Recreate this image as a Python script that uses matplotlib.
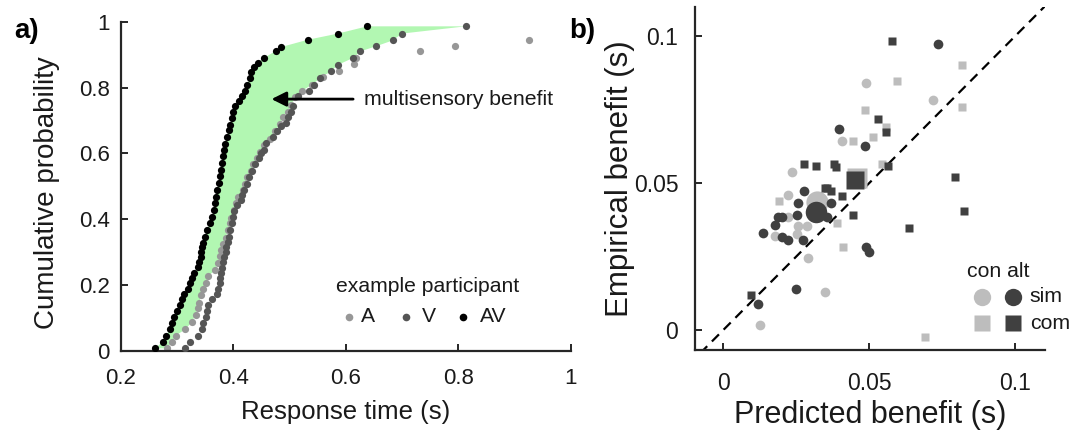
import numpy as np
import matplotlib
matplotlib.use("Agg")
import matplotlib.pyplot as plt

plt.rcParams['font.family'] = ['Liberation Sans', 'DejaVu Sans']

# ---- panel a: cumulative RT distributions (example participant) ----
av_rt = [0.261, 0.275, 0.281, 0.287, 0.291, 0.295, 0.300, 0.305, 0.309, 0.313,
         0.319, 0.323, 0.327, 0.331, 0.337, 0.340, 0.343, 0.343, 0.345, 0.346,
         0.349, 0.354, 0.358, 0.363, 0.365, 0.367, 0.369, 0.371, 0.374, 0.376,
         0.379, 0.380, 0.382, 0.384, 0.386, 0.389, 0.392, 0.395, 0.397, 0.399,
         0.403, 0.410, 0.416, 0.421, 0.425, 0.429, 0.432, 0.437, 0.444, 0.455,
         0.476, 0.485, 0.532, 0.586, 0.638]
av_p = [0.008, 0.028, 0.046, 0.066, 0.086, 0.102, 0.122, 0.140, 0.157, 0.172,
        0.188, 0.206, 0.221, 0.237, 0.254, 0.270, 0.285, 0.300, 0.315, 0.329,
        0.347, 0.368, 0.388, 0.408, 0.429, 0.449, 0.469, 0.489, 0.510, 0.530,
        0.550, 0.570, 0.591, 0.611, 0.629, 0.650, 0.670, 0.687, 0.707, 0.727,
        0.745, 0.760, 0.775, 0.791, 0.809, 0.829, 0.846, 0.864, 0.876, 0.890,
        0.912, 0.923, 0.945, 0.964, 0.986]

v_rt = [0.314, 0.324, 0.337, 0.345, 0.347, 0.351, 0.353, 0.356, 0.362, 0.371,
        0.373, 0.376, 0.377, 0.379, 0.380, 0.382, 0.384, 0.388, 0.388, 0.390,
        0.392, 0.395, 0.398, 0.400, 0.402, 0.406, 0.413, 0.415, 0.420, 0.424,
        0.428, 0.434, 0.439, 0.445, 0.449, 0.455, 0.458, 0.470, 0.477, 0.485,
        0.493, 0.498, 0.502, 0.507, 0.515, 0.535, 0.543, 0.555, 0.573, 0.586,
        0.613, 0.626, 0.653, 0.683, 0.700, 0.813]
v_p = [0.008, 0.028, 0.047, 0.066, 0.086, 0.104, 0.122, 0.140, 0.157, 0.172,
       0.188, 0.205, 0.221, 0.237, 0.253, 0.270, 0.286, 0.302, 0.317, 0.332,
       0.347, 0.368, 0.388, 0.406, 0.426, 0.444, 0.459, 0.474, 0.489, 0.507,
       0.527, 0.548, 0.567, 0.586, 0.601, 0.611, 0.631, 0.650, 0.667, 0.682,
       0.692, 0.710, 0.727, 0.745, 0.773, 0.791, 0.809, 0.829, 0.849, 0.869,
       0.890, 0.910, 0.925, 0.943, 0.964, 0.986]

a_rt = [0.282, 0.291, 0.298, 0.315, 0.327, 0.333, 0.337, 0.340, 0.343, 0.346,
        0.352, 0.356, 0.368, 0.373, 0.376, 0.378, 0.381, 0.387, 0.390, 0.394,
        0.396, 0.402, 0.405, 0.408, 0.417, 0.421, 0.425, 0.431, 0.436, 0.442,
        0.447, 0.455, 0.465, 0.474, 0.483, 0.488, 0.497, 0.503, 0.510, 0.523,
        0.540, 0.559, 0.588, 0.614, 0.618, 0.732, 0.794, 0.926]
a_p = [0.008, 0.028, 0.047, 0.066, 0.089, 0.110, 0.130, 0.147, 0.170, 0.188,
       0.208, 0.228, 0.246, 0.267, 0.289, 0.307, 0.325, 0.342, 0.368, 0.388,
       0.403, 0.429, 0.449, 0.469, 0.489, 0.507, 0.527, 0.548, 0.567, 0.586,
       0.605, 0.625, 0.645, 0.667, 0.689, 0.710, 0.727, 0.748, 0.770, 0.791,
       0.809, 0.831, 0.851, 0.872, 0.890, 0.910, 0.925, 0.943]

# ---- panel b: predicted vs empirical benefit ----
sim_con_x = [0.0489, 0.0720, 0.0406, 0.0235, 0.0223, 0.0291, 0.0349, 0.0126,
             0.0177, 0.0252, 0.0286, 0.0257, 0.0223]
sim_con_y = [0.0841, 0.0782, 0.0642, 0.0538, 0.0460, 0.0244, 0.0128, 0.0017,
             0.0320, 0.0326, 0.0355, 0.0355, 0.0386]
sim_alt_x = [0.0737, 0.0397, 0.0486, 0.0278, 0.0257, 0.0371, 0.0254, 0.0200,
             0.0189, 0.0177, 0.0137, 0.0200, 0.0221, 0.0274, 0.0354, 0.0489,
             0.0501, 0.0249, 0.0118]
sim_alt_y = [0.0974, 0.0684, 0.0627, 0.0475, 0.0434, 0.0432, 0.0392, 0.0386,
             0.0384, 0.0358, 0.0330, 0.0316, 0.0305, 0.0307, 0.0386, 0.0284,
             0.0264, 0.0139, 0.0089]
com_con_x = [0.0817, 0.0597, 0.0486, 0.0817, 0.0558, 0.0446, 0.0512, 0.0545,
             0.0192, 0.0391, 0.0411, 0.0691]
com_con_y = [0.0903, 0.0849, 0.0750, 0.0759, 0.0693, 0.0645, 0.0657, 0.0566,
             0.0438, 0.0366, 0.0282, -0.0023]
com_alt_x = [0.0577, 0.0531, 0.0558, 0.0278, 0.0317, 0.0381, 0.0386, 0.0566,
             0.0794, 0.0349, 0.0357, 0.0371, 0.0408, 0.0446, 0.0826, 0.0637,
             0.0095]
com_alt_y = [0.0983, 0.0719, 0.0674, 0.0566, 0.0560, 0.0566, 0.0555, 0.0560,
             0.0520, 0.0483, 0.0485, 0.0472, 0.0457, 0.0392, 0.0407, 0.0347,
             0.0119]
# group means
mean_sim_con = (0.0322, 0.0437)
mean_sim_alt = (0.0318, 0.0402)
mean_com_con = (0.0460, 0.0517)
mean_com_alt = (0.0452, 0.0511)

c_A, c_V, c_AV = '#979797', '#555555', 'black'
c_light, c_dark = '#bdbdbd', '#404040'
green = '#b2f7b2'
spine_c = '#262626'
txt_c = '#1a1a1a'

fig = plt.figure(figsize=(10.83, 4.37), dpi=100)
axa = fig.add_axes([0.1114, 0.1968, 0.4158, 0.7535])
axb = fig.add_axes([0.6417, 0.1991, 0.3232, 0.7849])

for ax in (axa, axb):
    for s in ('top', 'right'):
        ax.spines[s].set_visible(False)
    for s in ('left', 'bottom'):
        ax.spines[s].set_linewidth(1.6)
        ax.spines[s].set_color(spine_c)
    ax.tick_params(direction='in', length=5, width=1.4, color=spine_c,
                   labelsize=16, labelcolor=txt_c)

# ---- panel a ----
# green area between AV and the faster of the unisensory CDFs
ps = np.unique(np.concatenate([a_p, v_p]))
env = np.minimum(np.interp(ps, a_p, a_rt, right=np.inf),
                 np.interp(ps, v_p, v_rt, right=np.inf))
poly_x = np.concatenate([av_rt, env[::-1]])
poly_y = np.concatenate([av_p, ps[::-1]])
axa.fill(poly_x, poly_y, color=green, lw=0, zorder=1)

axa.plot(a_rt, a_p, 'o', color=c_A, ms=5.2, mec='none', zorder=2)
axa.plot(v_rt, v_p, 'o', color=c_V, ms=5.2, mec='none', zorder=3)
axa.plot(av_rt, av_p, 'o', color=c_AV, ms=5.2, mec='none', zorder=4)

axa.annotate('', xy=(0.468, 0.765), xytext=(0.613, 0.765),
             arrowprops=dict(arrowstyle='-|>', color='black', lw=2,
                             mutation_scale=22, shrinkA=0, shrinkB=0))
axa.text(0.633, 0.765, 'multisensory benefit', fontsize=15.3, va='center',
         ha='left', color=txt_c)

axa.text(0.682, 0.195, 'example participant', transform=axa.transAxes,
         fontsize=15.2, ha='center', va='center', color=txt_c)
for xm, xt, col, lab in [(0.508, 0.534, c_A, 'A'), (0.634, 0.668, c_V, 'V'),
                         (0.761, 0.798, c_AV, 'AV')]:
    axa.plot([xm], [0.104], 'o', color=col, ms=5.5, mec='none',
             transform=axa.transAxes, clip_on=False)
    axa.text(xt, 0.104, lab, transform=axa.transAxes, fontsize=15.2,
             ha='left', va='center', color=txt_c)

axa.set_xlim(0.2, 1)
axa.set_ylim(0, 1)
axa.set_xticks([0.2, 0.4, 0.6, 0.8, 1])
axa.set_xticklabels(['0.2', '0.4', '0.6', '0.8', '1'])
axa.set_yticks([0, 0.2, 0.4, 0.6, 0.8, 1])
axa.set_yticklabels(['0', '0.2', '0.4', '0.6', '0.8', '1'])
axa.tick_params(axis='x', pad=12)
axa.tick_params(axis='y', pad=8)
axa.set_xlabel('Response time (s)', fontsize=18.5, color=txt_c)
axa.set_ylabel('Cumulative probability', fontsize=20, color=txt_c)
axa.yaxis.set_label_coords(-0.135, 0.48)
axa.xaxis.set_label_coords(0.5, -0.15)

# ---- panel b ----
axb.plot([-0.02, 0.12], [-0.02, 0.12], '--', color='black', lw=1.6,
         dashes=(4.5, 3), zorder=1)
axb.plot(*mean_sim_con, 'o', color=c_light, ms=16, mec='none', zorder=2)
axb.plot(*mean_com_con, 's', color=c_light, ms=15, mec='none', zorder=2)
axb.plot(sim_con_x, sim_con_y, 'o', color=c_light, ms=7, mec='none', zorder=3)
axb.plot(com_con_x, com_con_y, 's', color=c_light, ms=5.8, mec='none', zorder=3)
axb.plot(sim_alt_x, sim_alt_y, 'o', color=c_dark, ms=7, mec='none', zorder=4)
axb.plot(com_alt_x, com_alt_y, 's', color=c_dark, ms=5.8, mec='none', zorder=4)
axb.plot(*mean_sim_alt, 'o', color=c_dark, ms=15.5, mec='none', zorder=5)
axb.plot(*mean_com_alt, 's', color=c_dark, ms=13.5, mec='none', zorder=5)

axb.text(0.776, 0.228, 'con alt', transform=axb.transAxes, fontsize=15.3,
         ha='left', va='center', color=txt_c)
axb.plot([0.819], [0.155], 'o', color=c_light, ms=12.5, mec='none',
         transform=axb.transAxes, clip_on=False)
axb.plot([0.909], [0.155], 'o', color=c_dark, ms=12.5, mec='none',
         transform=axb.transAxes, clip_on=False)
axb.plot([0.819], [0.078], 's', color=c_light, ms=11, mec='none',
         transform=axb.transAxes, clip_on=False)
axb.plot([0.909], [0.078], 's', color=c_dark, ms=11, mec='none',
         transform=axb.transAxes, clip_on=False)
axb.text(0.957, 0.155, 'sim', transform=axb.transAxes, fontsize=15.3,
         ha='left', va='center', color=txt_c)
axb.text(0.957, 0.078, 'com', transform=axb.transAxes, fontsize=15.3,
         ha='left', va='center', color=txt_c)

axb.set_xlim(-0.0097, 0.1103)
axb.set_ylim(-0.0068, 0.110)
axb.set_xticks([0, 0.05, 0.1])
axb.set_xticklabels(['0', '0.05', '0.1'])
axb.set_yticks([0, 0.05, 0.1])
axb.set_yticklabels(['0', '0.05', '0.1'])
axb.tick_params(axis='x', pad=16, labelsize=16.5)
axb.tick_params(axis='y', pad=12, labelsize=16.5)
axb.set_xlabel('Predicted benefit (s)', fontsize=22, color=txt_c)
axb.set_ylabel('Empirical benefit (s)', fontsize=22.5, color=txt_c)
axb.yaxis.set_label_coords(-0.17, 0.5)
axb.xaxis.set_label_coords(0.5, -0.145)

fig.text(0.013, 0.93, 'a)', fontsize=20, fontweight='bold', ha='left', va='center')
fig.text(0.526, 0.93, 'b)', fontsize=20, fontweight='bold', ha='left', va='center')

fig.savefig('out.png', dpi=100)
